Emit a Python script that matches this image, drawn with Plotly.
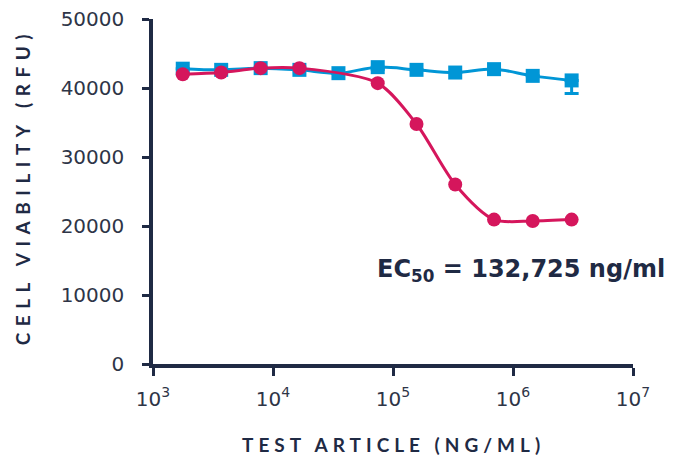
import plotly.graph_objects as go

# ---- data ----
conc = [1770, 3700, 7890, 16600, 35100, 74600, 157000, 330000, 695000, 1460000, 3080000]
control_rfu = [42800, 42630, 42880, 42630, 42150, 43020, 42630, 42240, 42730, 41760, 41100]
control_err_minus = [0, 0, 0, 0, 0, 300, 0, 0, 200, 0, 1900]
treated_rfu = [42000, 42240, 42880, 42880, None, 40700, 34780, 26020, 20930, 20730, 20930]

x_tickvals = [1e3, 1e4, 1e5, 1e6, 1e7]
x_ticktext = ["10<sup>3</sup>", "10<sup>4</sup>", "10<sup>5</sup>", "10<sup>6</sup>", "10<sup>7</sup>"]
y_tickvals = [0, 10000, 20000, 30000, 40000, 50000]
y_ticktext = ["0", "10000", "20000", "30000", "40000", "50000"]

x_title = "TEST ARTICLE (NG/ML)"
y_title = "CELL VIABILITY (RFU)"
ec50_text = "EC<sub>50</sub> = 132,725 ng/ml"

BLUE = "#0096D6"
PINK = "#D5165C"
AXIS = "#1F2A44"
TEXT = "#2E3547"

fig = go.Figure()

fig.add_trace(go.Scatter(
    x=conc, y=control_rfu, mode="lines+markers",
    line=dict(color=BLUE, width=3, shape="spline", smoothing=1.0),
    marker=dict(symbol="square", size=14, color=BLUE, line=dict(width=0)),
    error_y=dict(type="data", symmetric=False, array=[0] * len(conc),
                 arrayminus=control_err_minus, color=BLUE, thickness=3, width=7),
    showlegend=False,
))

fig.add_trace(go.Scatter(
    x=conc, y=treated_rfu, mode="lines+markers", connectgaps=True,
    line=dict(color=PINK, width=3, shape="spline", smoothing=0.8),
    marker=dict(symbol="circle", size=14, color=PINK, line=dict(width=0)),
    showlegend=False,
))

fig.update_layout(
    width=682, height=456,
    margin=dict(l=153, r=49, t=19, b=92, autoexpand=False),
    paper_bgcolor="white", plot_bgcolor="white",
    xaxis=dict(
        type="log", range=[3, 7], tickvals=x_tickvals, ticktext=x_ticktext,
        showline=True, linecolor=AXIS, linewidth=3.5, showgrid=False, zeroline=False,
        ticks="outside", ticklen=8, tickwidth=3, tickcolor=AXIS,
        tickfont=dict(family="DejaVu Sans", size=20, color=TEXT),
        ticklabelstandoff=6, automargin=False,
    ),
    yaxis=dict(
        range=[0, 50000], tickvals=y_tickvals, ticktext=y_ticktext,
        showline=True, linecolor=AXIS, linewidth=3.5, showgrid=False, zeroline=False,
        ticks="outside", ticklen=7, tickwidth=3, tickcolor=AXIS,
        tickfont=dict(family="DejaVu Sans", size=20, color=TEXT),
        ticklabelstandoff=14, automargin=False,
    ),
    annotations=[
        dict(text=x_title, xref="paper", yref="paper", x=0.5, y=-0.233,
             xanchor="center", yanchor="middle", showarrow=False,
             font=dict(family="Lato", size=19, color=AXIS, weight="bold")),
        dict(text=y_title, xref="paper", yref="paper", x=-0.273, y=0.515,
             xanchor="center", yanchor="middle", showarrow=False, textangle=-90,
             font=dict(family="Lato", size=19, color=AXIS, weight="bold")),
        dict(text=ec50_text, xref="paper", yref="paper", x=0.4625, y=0.27,
             xanchor="left", yanchor="middle", showarrow=False,
             font=dict(family="DejaVu Sans", size=24, color=AXIS, weight="bold")),
    ],
)

post = """
var gd = document.getElementById('{plot_id}');
function spaceTitles(){
  gd.querySelectorAll('.annotation-text').forEach(function(t){
    var s = t.textContent;
    if (s.indexOf('TEST') === 0) { t.style.letterSpacing = '5px'; }
    if (s.indexOf('CELL') === 0) { t.style.letterSpacing = '6.5px'; }
  });
}
spaceTitles();
if (gd.on) { gd.on('plotly_afterplot', spaceTitles); }
setTimeout(spaceTitles, 50);
"""

fig.write_html("out.html", post_script=post)
